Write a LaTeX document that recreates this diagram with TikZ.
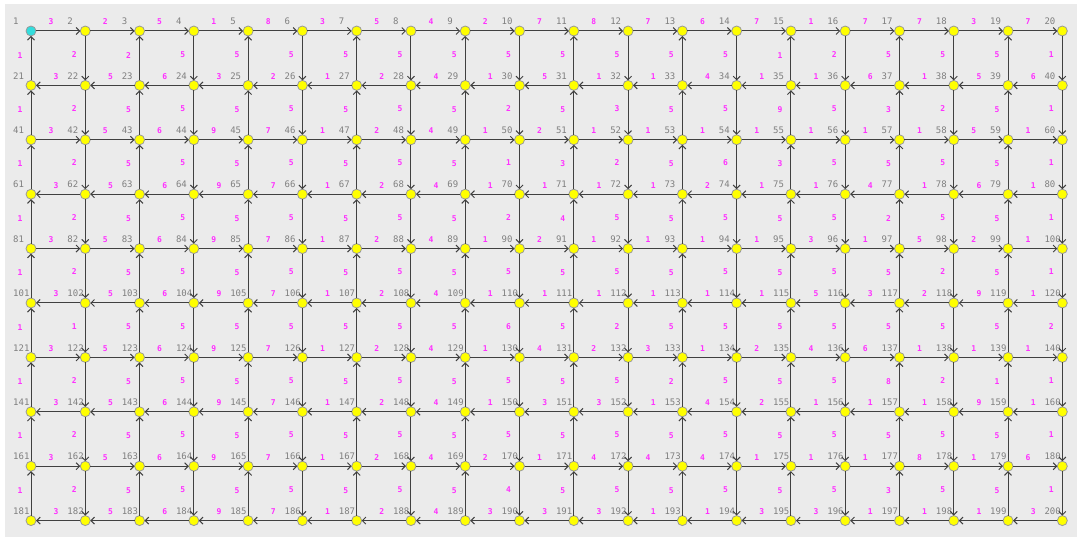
\documentclass[tikz,border=0pt]{standalone}
\usepackage{fontspec}
\setmonofont{DejaVu Sans Mono}
\usetikzlibrary{arrows.meta}
\definecolor{bg}{HTML}{EBEBEB}
\definecolor{wt}{HTML}{FF30FF}
\definecolor{lbl}{HTML}{7F7F7F}
\definecolor{edgec}{HTML}{404040}
\definecolor{nodey}{HTML}{FFFF00}
\definecolor{nodecy}{HTML}{33DDDD}
\definecolor{nborder}{HTML}{999999}
\tikzset{
 vtx/.style={circle, draw=nborder, fill=nodey, line width=0.8pt, minimum size=10pt, inner sep=0pt, outer sep=0pt},
 srcvtx/.style={vtx, fill=nodecy},
 vlabel/.style={font=\ttfamily\fontsize{9}{9}\selectfont, text=lbl, anchor=south west, inner sep=0pt},
 wlabel/.style={font=\ttfamily\bfseries\fontsize{8}{8}\selectfont, text=wt, inner sep=0pt},
 link/.style={draw=edgec, line width=1pt, -{Straight Barb[length=3.5pt,width=7pt]}},
}
\begin{document}
\begin{tikzpicture}[x=1pt,y=-1pt]
\useasboundingbox (0,0) rectangle (1077,537);
\fill[bg] (5,4) rectangle (1077,537);
% vertices
\foreach \r in {1,...,10}{
 \foreach \c in {1,...,20}{
  \pgfmathtruncatemacro\id{(\r-1)*20+\c}
  \pgfmathsetmacro\xx{31+54.28*(\c-1)}
  \pgfmathsetmacro\yy{31+54.4*(\r-1)}
  \ifnum\id=1 \def\st{srcvtx}\else\def\st{vtx}\fi
  \node[\st] (n\id) at (\xx,\yy) {};
  \node[vlabel] (t\id) at (\xx-18,\yy-6) {\id};
 }
}
% horizontal edges
\foreach \r/\ws in {
 1/{3,2,5,1,8,3,5,4,2,7,8,7,6,7,1,7,7,3,7},
 2/{3,5,6,3,2,1,2,4,1,5,1,1,4,1,1,6,1,5,6},
 3/{3,5,6,9,7,1,2,4,1,2,1,1,1,1,1,1,1,5,1},
 4/{3,5,6,9,7,1,2,4,1,1,1,1,2,1,1,4,1,6,1},
 5/{3,5,6,9,7,1,2,4,1,2,1,1,1,1,3,1,5,2,1},
 6/{3,5,6,9,7,1,2,4,1,1,1,1,1,1,5,3,2,9,1},
 7/{3,5,6,9,7,1,2,4,1,4,2,3,1,2,4,6,1,1,1},
 8/{3,5,6,9,7,1,2,4,1,3,3,1,4,2,1,1,1,9,1},
 9/{3,5,6,9,7,1,2,4,2,1,4,4,4,1,1,1,8,1,6},
 10/{3,5,6,9,7,1,2,4,3,3,3,1,1,3,3,1,1,1,3}}{
 \foreach \w [count=\c] in \ws {
  \pgfmathtruncatemacro\a{(\r-1)*20+\c}
  \pgfmathtruncatemacro\b{\a+1}
  \ifodd\r
   \draw[link] (n\a) -- node[wlabel,pos=0.34,yshift=9pt] {\w} (n\b);
  \else
   \draw[link] (n\b) -- node[wlabel,pos=0.545,yshift=9pt] {\w} (n\a);
  \fi
 }
}
% vertical edges
\foreach \r/\ws in {
 1/{1,2,2,5,5,5,5,5,5,5,5,5,5,5,1,2,5,5,5,1},
 2/{1,2,5,5,5,5,5,5,5,2,5,3,5,5,9,5,3,2,5,1},
 3/{1,2,5,5,5,5,5,5,5,1,3,2,5,6,3,5,5,5,5,1},
 4/{1,2,5,5,5,5,5,5,5,2,4,5,5,5,5,5,2,5,5,1},
 5/{1,2,5,5,5,5,5,5,5,5,5,5,5,5,5,5,5,2,5,1},
 6/{1,1,5,5,5,5,5,5,5,6,5,2,5,5,5,5,5,5,5,2},
 7/{1,2,5,5,5,5,5,5,5,5,5,5,2,5,5,5,8,2,1,1},
 8/{1,2,5,5,5,5,5,5,5,5,5,5,5,5,5,5,5,5,5,1},
 9/{1,2,5,5,5,5,5,5,5,4,5,5,5,5,5,5,3,5,5,1}}{
 \foreach \w [count=\c] in \ws {
  \pgfmathtruncatemacro\a{(\r-1)*20+\c}
  \pgfmathtruncatemacro\b{\a+20}
  \ifodd\c
   \draw[link] (n\b) -- node[wlabel,pos=0.57,xshift=-11pt] {\w} (n\a);
  \else
   \draw[link] (n\a) -- node[wlabel,pos=0.41,xshift=-11pt] {\w} (n\b);
  \fi
 }
}
\end{tikzpicture}
\end{document}
